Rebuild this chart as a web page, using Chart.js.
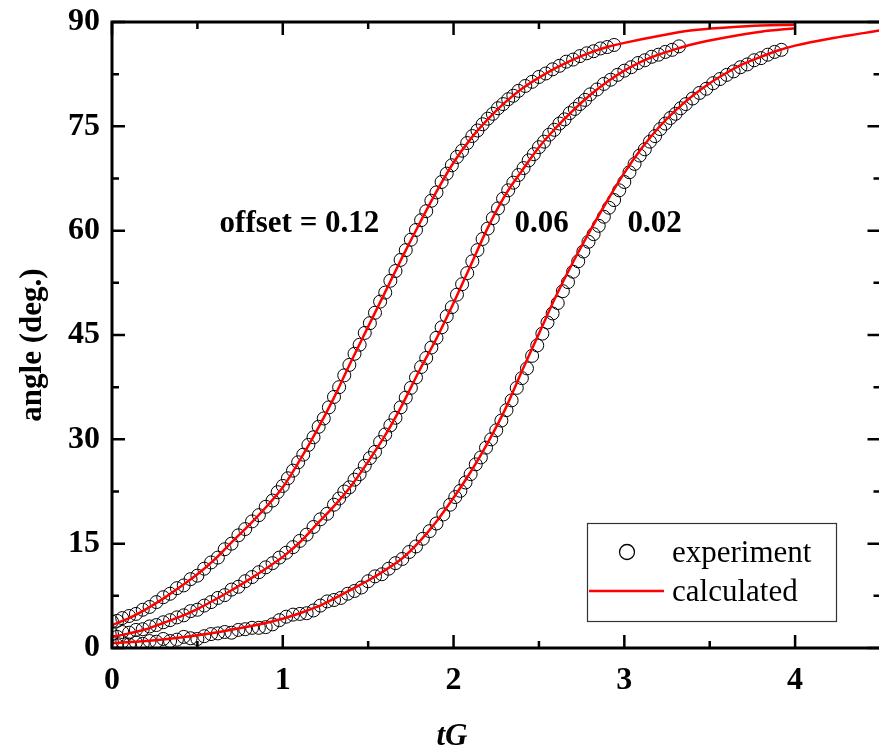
<!DOCTYPE html>
<html lang="en">
<head>
  <meta charset="UTF-8">
  <title>angle vs tG</title>
  <script src="https://cdn.jsdelivr.net/npm/chart.js"></script>
  <style>
    body { margin: 0; background: #fff; overflow: hidden; }
    #wrap { width: 888px; height: 754px; }
  </style>
</head>
<body>
  <div id="wrap"><canvas id="angleChart" width="888" height="754"></canvas></div>

  <script>
    // calculated curves
    const calc012X = [0,0.1,0.2,0.3,0.4,0.5,0.6,0.7,0.8,0.9,1.0,1.1,1.2,1.3,1.4,1.5,1.6,1.7,1.8,1.9,2.0,2.1,2.2,2.3,2.4,2.5,2.6,2.7,2.8,2.9,3.0,3.2,3.4,3.6,3.8,4.0];
    const calc012Y = [3.3,4.3,5.6,7.1,8.8,10.6,12.7,15.2,17.6,20.2,23.1,27.0,31.3,36.0,41.2,46.2,51.2,56.2,61.0,65.6,69.8,73.2,76.0,78.4,80.4,82.0,83.4,84.6,85.6,86.4,87.0,88.0,88.8,89.2,89.5,89.6];

    const calc006X = [0,0.1,0.2,0.3,0.4,0.5,0.6,0.7,0.8,0.9,1.0,1.1,1.2,1.3,1.4,1.5,1.6,1.7,1.8,1.9,2.0,2.1,2.2,2.3,2.4,2.5,2.6,2.7,2.8,2.9,3.0,3.1,3.2,3.3,3.4,3.6,3.8,4.0];
    const calc006Y = [1.6,2.1,2.7,3.6,4.5,5.6,6.9,8.3,9.8,11.4,13.1,15.2,17.8,20.4,23.3,26.8,30.6,35.0,39.9,44.5,49.6,55.0,60.4,65.0,68.6,72.0,74.8,77.3,79.5,81.4,83.0,84.3,85.3,86.1,86.8,87.8,88.6,89.1];

    const calc002X = [0,0.2,0.4,0.6,0.8,0.9,1.0,1.1,1.2,1.3,1.4,1.5,1.6,1.7,1.8,1.9,2.0,2.1,2.2,2.3,2.4,2.5,2.6,2.7,2.8,2.9,3.0,3.1,3.2,3.3,3.4,3.5,3.6,3.7,3.8,3.9,4.0,4.2,4.4,4.5];
    const calc002Y = [0.7,1.0,1.5,2.2,3.1,3.6,4.2,5.0,5.9,7.1,8.4,9.7,11.2,12.9,15.3,18.2,21.6,25.3,29.5,34.2,39.8,45.2,50.6,55.5,60.0,64.3,68.3,71.8,74.8,77.3,79.4,81.2,82.7,84.0,85.0,85.9,86.6,87.6,88.4,88.8];

    // experiment points
    const exp012X = [0,0.03,0.06,0.10,0.14,0.18,0.22,0.26,0.30,0.34,0.38,0.42,0.46,0.50,0.54,0.58,0.62,0.66,0.70,0.74,0.78,0.82,0.86,0.90,0.94,0.97,1.00,1.03,1.06,1.09,1.12,1.15,1.18,1.21,1.24,1.27,1.30,1.33,1.36,1.39,1.42,1.45,1.48,1.51,1.54,1.57,1.60,1.63,1.66,1.69,1.72,1.75,1.78,1.81,1.84,1.87,1.90,1.93,1.96,1.99,2.02,2.05,2.08,2.11,2.14,2.17,2.20,2.23,2.26,2.29,2.32,2.35,2.38,2.42,2.46,2.50,2.54,2.58,2.62,2.66,2.70,2.74,2.78,2.82,2.86,2.90,2.94];
    const exp012Y = [3.8,3.9,4.3,4.6,4.9,5.5,5.9,6.6,7.3,7.8,8.6,9.0,9.9,10.4,11.4,12.3,13.0,14.2,15.0,16.2,17.1,18.2,19.1,20.3,21.2,22.4,23.3,24.4,25.5,26.7,27.8,29.2,30.3,31.8,33.0,34.6,36.1,37.5,39.2,40.7,42.3,43.6,45.3,46.7,48.2,49.8,51.1,52.8,54.2,55.8,57.2,58.7,60.1,61.5,62.8,64.3,65.5,67.0,68.2,69.4,70.6,71.5,72.6,73.6,74.4,75.3,76.1,76.8,77.6,78.2,78.9,79.4,80.1,80.8,81.4,82.1,82.6,83.2,83.7,84.3,84.6,85.1,85.5,85.8,86.2,86.4,86.7];

    const exp006X = [0,0.03,0.06,0.10,0.14,0.18,0.22,0.26,0.30,0.34,0.38,0.42,0.46,0.50,0.54,0.58,0.62,0.66,0.70,0.74,0.78,0.82,0.86,0.90,0.94,0.98,1.02,1.06,1.10,1.14,1.18,1.22,1.26,1.30,1.33,1.36,1.39,1.42,1.45,1.48,1.51,1.54,1.57,1.60,1.63,1.66,1.69,1.72,1.75,1.78,1.81,1.84,1.87,1.90,1.93,1.96,1.99,2.02,2.05,2.08,2.11,2.14,2.17,2.20,2.23,2.26,2.29,2.32,2.35,2.38,2.41,2.44,2.47,2.50,2.53,2.56,2.59,2.62,2.65,2.68,2.71,2.74,2.77,2.80,2.84,2.88,2.92,2.96,3.00,3.04,3.08,3.12,3.16,3.20,3.24,3.28,3.32];
    const exp006Y = [2.0,1.6,2.3,2.2,2.6,2.7,3.1,3.3,3.7,4.0,4.4,4.7,5.3,5.5,6.1,6.6,7.2,7.6,8.4,8.8,9.6,10.2,10.9,11.6,12.2,13.0,13.7,14.5,15.4,16.3,17.4,18.5,19.3,20.6,21.5,22.5,23.1,24.2,25.0,26.2,27.3,28.2,29.6,30.7,32.0,33.1,34.6,36.0,37.4,38.9,40.4,41.7,43.2,44.6,46.1,47.7,49.0,50.8,52.3,53.9,55.6,57.2,58.8,60.3,61.8,63.2,64.6,65.8,66.9,68.0,69.0,70.1,71.0,72.0,72.8,73.8,74.5,75.4,76.0,76.9,77.5,78.2,78.8,79.6,80.3,81.1,81.7,82.4,83.0,83.5,84.1,84.5,85.0,85.3,85.7,86.0,86.5];

    const exp002X = [0,0.03,0.06,0.10,0.14,0.18,0.22,0.26,0.30,0.34,0.38,0.42,0.46,0.50,0.54,0.58,0.62,0.66,0.70,0.74,0.78,0.82,0.86,0.90,0.94,0.98,1.02,1.06,1.10,1.14,1.18,1.22,1.26,1.30,1.34,1.38,1.42,1.46,1.50,1.54,1.58,1.62,1.66,1.70,1.74,1.78,1.82,1.86,1.90,1.94,1.98,2.01,2.04,2.07,2.10,2.13,2.16,2.19,2.22,2.25,2.28,2.31,2.34,2.37,2.40,2.43,2.46,2.49,2.52,2.55,2.58,2.61,2.64,2.67,2.70,2.73,2.76,2.79,2.82,2.85,2.88,2.91,2.94,2.97,3.00,3.03,3.06,3.09,3.12,3.15,3.18,3.21,3.24,3.27,3.30,3.33,3.36,3.40,3.44,3.48,3.52,3.56,3.60,3.64,3.68,3.72,3.76,3.80,3.84,3.88,3.92];
    const exp002Y = [0.8,0.4,0.9,0.5,0.8,0.6,1.0,0.9,1.3,1.0,1.2,1.6,1.4,1.3,1.7,2.0,2.1,2.3,2.2,2.6,2.7,2.9,2.9,3.0,3.4,4.0,4.5,4.8,4.9,5.0,5.4,6.1,6.7,6.9,7.2,7.8,8.2,8.7,9.6,10.3,10.6,11.4,12.2,12.8,13.8,14.6,15.7,16.8,17.9,19.2,20.6,21.7,22.6,23.8,25.0,26.4,27.4,28.8,30.0,31.3,32.7,34.2,35.6,37.4,38.8,40.2,42.0,43.5,45.2,46.8,48.1,49.6,51.3,52.6,54.1,55.6,57.0,58.4,59.5,60.7,62.0,63.3,64.4,65.8,67.0,68.4,69.6,70.8,71.7,72.8,73.6,74.6,75.4,76.2,76.8,77.6,78.2,79.0,79.8,80.4,81.2,81.8,82.4,82.9,83.5,83.9,84.5,84.8,85.3,85.7,86.0];

    const xTickValues = [0, 1, 2, 3, 4];

    const serif = "'Liberation Serif', 'Times New Roman', serif";

    function pts(xs, ys) {
      return xs.map((v, i) => ({ x: v, y: ys[i] }));
    }

    const expStyle = {
      showLine: false,
      pointRadius: 6.5,
      pointBorderWidth: 1,
      pointBorderColor: '#000',
      pointBackgroundColor: 'rgba(0,0,0,0)',
      order: 2
    };
    const calcStyle = {
      showLine: true,
      pointRadius: 0,
      borderColor: '#ff0000',
      borderWidth: 2.5,
      cubicInterpolationMode: 'monotone',
      fill: false,
      order: 1
    };

    // frame, inward ticks, legend box and text labels
    const decorations = {
      id: 'decorations',
      afterDatasetsDraw(chart) {
        const { ctx, chartArea: a, scales: { x, y } } = chart;
        ctx.save();
        ctx.strokeStyle = '#000';
        ctx.lineWidth = 3;
        ctx.strokeRect(a.left, a.top, a.right - a.left, a.bottom - a.top);

        ctx.lineWidth = 2.5;
        ctx.beginPath();
        for (let v = 0; v <= 4.5001; v += 0.5) {
          const px = x.getPixelForValue(v);
          const len = Math.abs(v - Math.round(v)) < 1e-6 ? 13 : 7;
          ctx.moveTo(px, a.bottom); ctx.lineTo(px, a.bottom - len);
          ctx.moveTo(px, a.top); ctx.lineTo(px, a.top + len);
        }
        for (let v = 0; v <= 90.001; v += 7.5) {
          const py = y.getPixelForValue(v);
          const len = (v % 15 === 0) ? 13 : 7;
          ctx.moveTo(a.left, py); ctx.lineTo(a.left + len, py);
          ctx.moveTo(a.right, py); ctx.lineTo(a.right - len, py);
        }
        ctx.stroke();

        // offset labels
        ctx.fillStyle = '#000';
        ctx.font = 'bold 31px ' + serif;
        ctx.textAlign = 'left';
        ctx.textBaseline = 'alphabetic';
        [['offset = 0.12', 0.63, 59.8], ['0.06', 2.357, 59.8], ['0.02', 3.018, 59.8]].forEach(l => {
          ctx.fillText(l[0], x.getPixelForValue(l[1]), y.getPixelForValue(l[2]));
        });

        // legend
        ctx.lineWidth = 1.2;
        ctx.strokeStyle = '#333';
        ctx.strokeRect(587.5, 523.5, 249, 98);
        ctx.strokeStyle = '#000';
        ctx.lineWidth = 1.3;
        ctx.beginPath();
        ctx.arc(627, 552, 7.5, 0, Math.PI * 2);
        ctx.stroke();
        ctx.strokeStyle = '#ff0000';
        ctx.lineWidth = 2.5;
        ctx.beginPath();
        ctx.moveTo(589, 591); ctx.lineTo(664, 591);
        ctx.stroke();
        ctx.font = '31px ' + serif;
        ctx.fillText('experiment', 672, 562);
        ctx.fillText('calculated', 672, 601);

        // axis titles
        ctx.font = 'bold 31px ' + serif;
        ctx.textAlign = 'center';
        ctx.textBaseline = 'middle';
        ctx.save();
        ctx.translate(33, 345);
        ctx.rotate(-Math.PI / 2);
        ctx.fillText('angle (deg.)', 0, 0);
        ctx.restore();
        ctx.font = 'italic bold 31px ' + serif;
        ctx.textBaseline = 'alphabetic';
        ctx.fillText('tG', 452, 745);
        ctx.restore();
      }
    };

    const ctx = document.getElementById('angleChart').getContext('2d');
    const angleChart = new Chart(ctx, {
      type: 'scatter',
      data: {
        datasets: [
          Object.assign({ label: 'experiment 0.12', data: pts(exp012X, exp012Y) }, expStyle),
          Object.assign({ label: 'experiment 0.06', data: pts(exp006X, exp006Y) }, expStyle),
          Object.assign({ label: 'experiment 0.02', data: pts(exp002X, exp002Y) }, expStyle),
          Object.assign({ label: 'calculated 0.12', data: pts(calc012X, calc012Y) }, calcStyle),
          Object.assign({ label: 'calculated 0.06', data: pts(calc006X, calc006Y) }, calcStyle),
          Object.assign({ label: 'calculated 0.02', data: pts(calc002X, calc002Y) }, calcStyle)
        ]
      },
      options: {
        responsive: false,
        animation: false,
        events: [],
        layout: { padding: { top: 22, right: 3, left: 0, bottom: 0 } },
        scales: {
          x: {
            type: 'linear',
            min: 0,
            max: 4.5,
            grid: { display: false, drawTicks: false },
            border: { display: false },
            afterBuildTicks: s => { s.ticks = xTickValues.map(v => ({ value: v })); },
            afterFit: s => { s.height = 106; s.paddingLeft = 0; s.paddingRight = 0; },
            ticks: {
              color: '#000',
              padding: 14,
              font: { family: serif, size: 32, weight: 'bold' }
            }
          },
          y: {
            min: 0,
            max: 90,
            grid: { display: false, drawTicks: false },
            border: { display: false },
            afterFit: s => { s.width = 112; s.paddingTop = 0; s.paddingBottom = 0; },
            ticks: {
              stepSize: 15,
              color: '#000',
              padding: 12,
              font: { family: serif, size: 32, weight: 'bold' }
            }
          }
        },
        plugins: {
          legend: { display: false },
          tooltip: { enabled: false }
        }
      },
      plugins: [decorations]
    });
  </script>
</body>
</html>
